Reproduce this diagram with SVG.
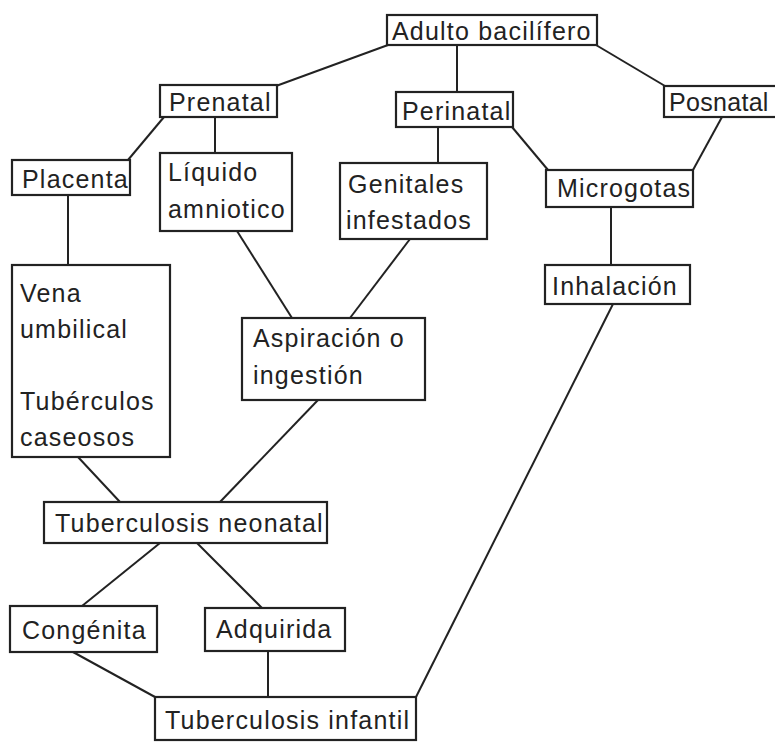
<svg xmlns="http://www.w3.org/2000/svg" width="775" height="745" viewBox="0 0 775 745">
<style>
rect{fill:#fff;stroke:#222;stroke-width:2.2}
text{font-family:"Liberation Sans",Arial,sans-serif;font-size:25px;letter-spacing:1.2px;fill:#222}
#connectors line{stroke:#222;stroke-width:2}
</style>
<rect x="0" y="0" width="775" height="745" style="stroke:none"/>
<g id="connectors">
<line x1="388" y1="45" x2="276" y2="86"/>
<line x1="457" y1="45" x2="457" y2="92"/>
<line x1="596" y1="45" x2="665" y2="86"/>
<line x1="164" y1="117" x2="128" y2="160"/>
<line x1="215" y1="117" x2="215" y2="153"/>
<line x1="438" y1="127" x2="438" y2="163"/>
<line x1="512" y1="127" x2="548" y2="170"/>
<line x1="722" y1="117" x2="693" y2="170"/>
<line x1="68" y1="195" x2="68" y2="265"/>
<line x1="237" y1="231" x2="292" y2="318"/>
<line x1="410" y1="239" x2="350" y2="318"/>
<line x1="611" y1="207" x2="611" y2="265"/>
<line x1="613" y1="304" x2="416" y2="697"/>
<line x1="78" y1="457" x2="120" y2="502"/>
<line x1="318" y1="400" x2="220" y2="502"/>
<line x1="160" y1="543" x2="82" y2="606"/>
<line x1="197" y1="543" x2="262" y2="608"/>
<line x1="73" y1="652" x2="155" y2="697"/>
<line x1="268" y1="651" x2="268" y2="697"/>
</g>
<g id="adulto"><rect x="387" y="15" width="210" height="30"/><text x="392" y="40">Adulto bacilífero</text></g>
<g id="prenatal"><rect x="160" y="85" width="117" height="32"/><text x="169" y="111">Prenatal</text></g>
<g id="perinatal"><rect x="396" y="92" width="117" height="35"/><text x="402" y="120">Perinatal</text></g>
<g id="posnatal"><rect x="664" y="86" width="113" height="31"/><text x="669" y="111" style="letter-spacing:0.3px">Posnatal</text></g>
<g id="placenta"><rect x="12" y="160" width="118" height="35"/><text x="22" y="188">Placenta</text></g>
<g id="liquido"><rect x="160" y="153" width="132" height="78"/><text x="168" y="181">Líquido</text><text x="168" y="218">amniotico</text></g>
<g id="genitales"><rect x="340" y="163" width="147" height="76"/><text x="348" y="193">Genitales</text><text x="346" y="229">infestados</text></g>
<g id="microgotas"><rect x="546" y="170" width="147" height="37"/><text x="557" y="197">Microgotas</text></g>
<g id="inhalacion"><rect x="545" y="265" width="145" height="39"/><text x="552" y="295">Inhalación</text></g>
<g id="vena"><rect x="12" y="265" width="158" height="192"/><text x="20" y="302">Vena</text><text x="20" y="338">umbilical</text><text x="20" y="410">Tubérculos</text><text x="20" y="446">caseosos</text></g>
<g id="aspiracion"><rect x="242" y="318" width="183" height="82"/><text x="253" y="347">Aspiración o</text><text x="253" y="384">ingestión</text></g>
<g id="tb-neonatal"><rect x="44" y="502" width="283" height="41"/><text x="55" y="532">Tuberculosis neonatal</text></g>
<g id="congenita"><rect x="10" y="606" width="147" height="46"/><text x="22" y="639">Congénita</text></g>
<g id="adquirida"><rect x="205" y="608" width="140" height="43"/><text x="216" y="638">Adquirida</text></g>
<g id="tb-infantil"><rect x="155" y="697" width="261" height="43"/><text x="165" y="729">Tuberculosis infantil</text></g>
</svg>
